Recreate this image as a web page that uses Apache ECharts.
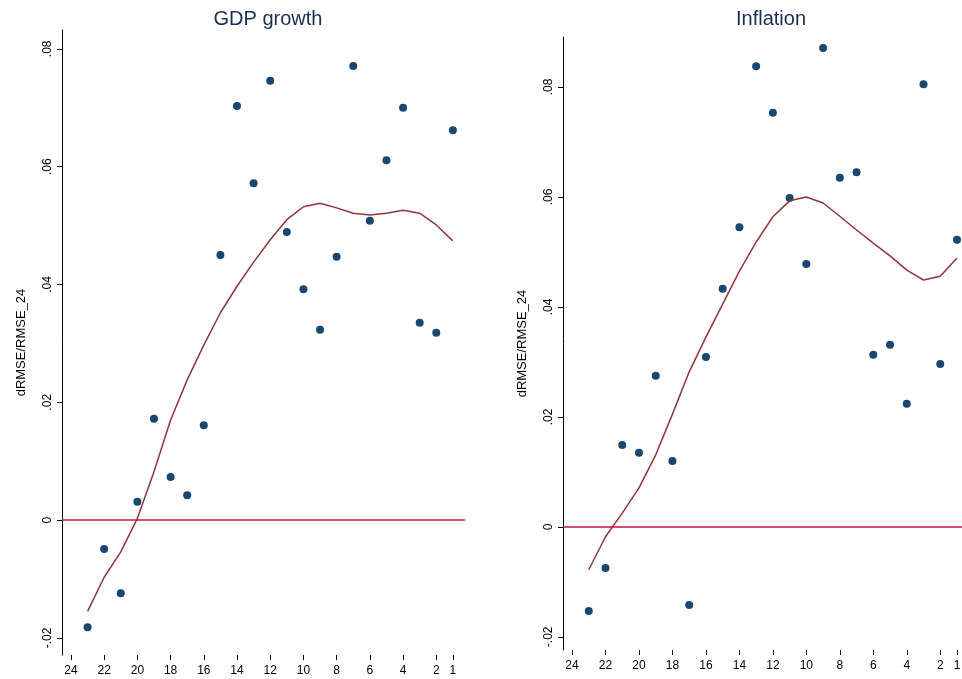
<!DOCTYPE html>
<html>
<head>
<meta charset="utf-8">
<script src="https://cdn.jsdelivr.net/npm/echarts@6/dist/echarts.min.js"></script>
<style>html,body{margin:0;padding:0;background:#fff}#chart{width:962px;height:679px}</style>
</head>
<body>
<div id="chart"></div>
<script>
var horizons = [23,22,21,20,19,18,17,16,15,14,13,12,11,10,9,8,7,6,5,4,3,2,1];
var gdpDots = [-0.0182,-0.0049,-0.0124,0.0031,0.0172,0.0073,0.0042,0.0161,0.0450,0.0703,0.0572,0.0746,0.0489,0.0392,0.0323,0.0447,0.0771,0.0508,0.0611,0.0700,0.0335,0.0318,0.0662];
var gdpFit = [-0.0155,-0.0097,-0.0054,0.0003,0.0082,0.0170,0.0238,0.0297,0.0352,0.0397,0.0438,0.0476,0.0510,0.0532,0.0538,0.0530,0.0521,0.0518,0.0521,0.0526,0.0521,0.0501,0.0474];
var infDots = [-0.0153,-0.0075,0.0149,0.0135,0.0275,0.0120,-0.0142,0.0309,0.0433,0.0545,0.0838,0.0753,0.0598,0.0478,0.0871,0.0635,0.0645,0.0313,0.0331,0.0224,0.0805,0.0296,0.0522];
var infFit = [-0.0078,-0.0018,0.0025,0.0071,0.0131,0.0205,0.0282,0.0345,0.0405,0.0465,0.0518,0.0564,0.0593,0.0600,0.0589,0.0565,0.0540,0.0516,0.0493,0.0467,0.0449,0.0456,0.0489];
var xTicks = [24,22,20,18,16,14,12,10,8,6,4,2,1];
var gdpYTicks = [-0.02,0,0.02,0.04,0.06,0.08];
var infYTicks = [-0.02,0,0.02,0.04,0.06,0.08];

function pairs(vals){ return horizons.map(function(h,i){ return [h, vals[i]]; }); }
function yFmt(v){
  if (Math.abs(v) < 1e-9) return '0';
  return v.toFixed(2).replace('0.', '.');
}
function xAxis(idx, min){
  return {
    type:'value', gridIndex:idx, min:min, max:24.54, inverse:true,
    axisLine:{show:false, onZero:false}, splitLine:{show:false},
    axisTick:{show:true, customValues:xTicks, length:5, lineStyle:{color:'#000'}},
    axisLabel:{customValues:xTicks, margin:10, color:'#000', fontSize:12, fontFamily:'Liberation Sans'}
  };
}
function yAxis(idx, min, max, ticks){
  return {
    type:'value', gridIndex:idx, min:min, max:max, name:'dRMSE/RMSE_24',
    nameLocation:'middle', nameGap:34, nameRotate:90,
    nameTextStyle:{color:'#000', fontSize:13, fontFamily:'Liberation Sans'},
    axisLine:{show:true, onZero:false, lineStyle:{color:'#000'}}, splitLine:{show:false},
    axisTick:{show:true, customValues:ticks, length:5, lineStyle:{color:'#000'}},
    axisLabel:{customValues:ticks, rotate:90, formatter:yFmt, color:'#000', fontSize:12, fontFamily:'Liberation Sans'}
  };
}
var zeroLine = {silent:true, symbol:'none', label:{show:false}, lineStyle:{color:'#c8143c', type:'solid', width:1.5}, data:[{yAxis:0}]};
var dotStyle = {color:'#1a476f', opacity:1};
var lineStyle = {color:'#90353b', width:1.5};

var myChart = echarts.init(document.getElementById('chart'));
myChart.setOption({
  animation:false,
  title:[
    {text:'GDP growth', left:263, top:4, textAlign:'center', textStyle:{color:'#1e2d53', fontSize:20, fontWeight:'normal', fontFamily:'Liberation Sans'}},
    {text:'Inflation', left:766, top:4, textAlign:'center', textStyle:{color:'#1e2d53', fontSize:20, fontWeight:'normal', fontFamily:'Liberation Sans'}}
  ],
  grid:[
    {left:62, right:497, top:30, bottom:24, outerBoundsMode:'none', containLabel:false},
    {left:563, right:0, top:37, bottom:29, outerBoundsMode:'none', containLabel:false}
  ],
  xAxis:[xAxis(0, 0.27), xAxis(1, 0.7)],
  yAxis:[yAxis(0,-0.0229,0.0832,gdpYTicks), yAxis(1,-0.0224,0.0891,infYTicks)],
  series:[
    {type:'scatter', xAxisIndex:0, yAxisIndex:0, data:pairs(gdpDots), symbolSize:8, itemStyle:dotStyle, markLine:zeroLine},
    {type:'line', xAxisIndex:0, yAxisIndex:0, data:pairs(gdpFit), showSymbol:false, lineStyle:lineStyle},
    {type:'scatter', xAxisIndex:1, yAxisIndex:1, data:pairs(infDots), symbolSize:8, itemStyle:dotStyle, markLine:zeroLine},
    {type:'line', xAxisIndex:1, yAxisIndex:1, data:pairs(infFit), showSymbol:false, lineStyle:lineStyle}
  ]
});
window.addEventListener('resize', function(){ myChart.resize(); });
</script>
</body>
</html>
